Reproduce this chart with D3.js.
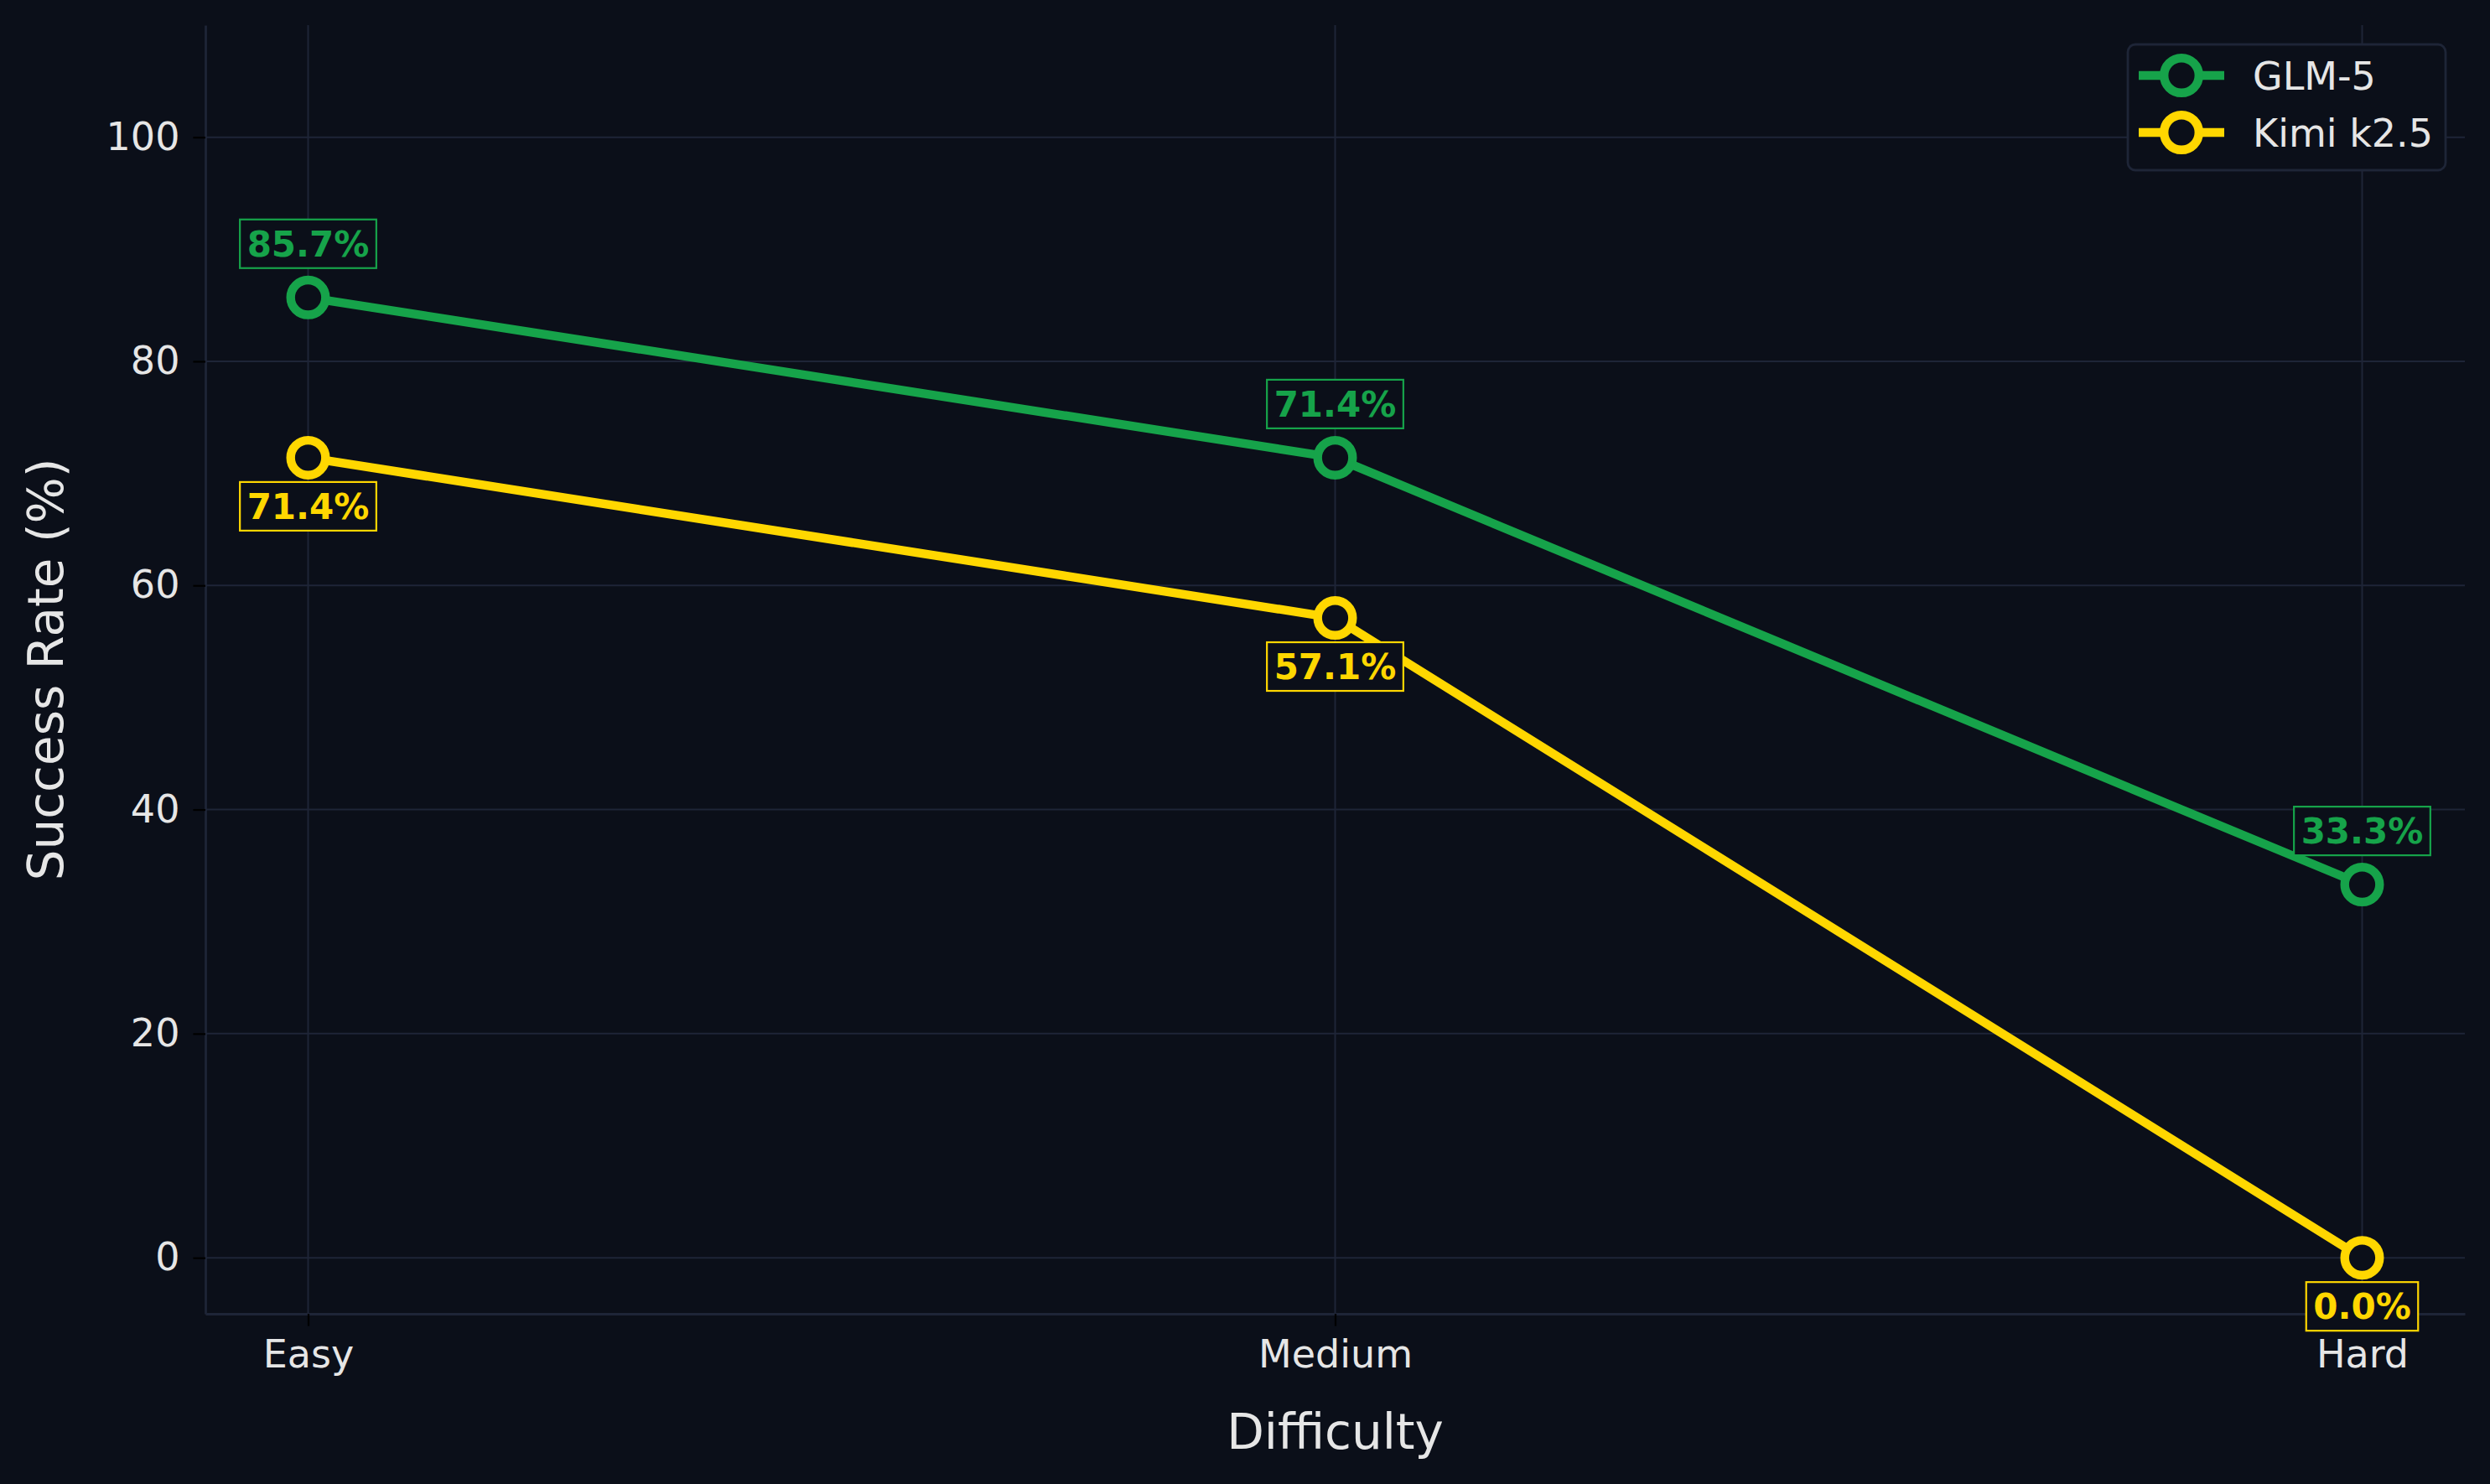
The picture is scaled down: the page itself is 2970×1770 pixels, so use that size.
<!DOCTYPE html>
<html>
<head>
<meta charset="utf-8">
<script src="https://cdn.jsdelivr.net/npm/d3@7"></script>
<style>
  html, body { margin: 0; padding: 0; background: #0b0f19; }
  svg { display: block; }
</style>
</head>
<body>
<div id="chart"></div>
<script>
// data
const difficulties = ['Easy', 'Medium', 'Hard'];
const glmValues = [85.7, 71.4, 33.3];
const kimiValues = [71.4, 57.1, 0.0];
const yTicks = [0, 20, 40, 60, 80, 100];
const seriesNames = ['GLM-5', 'Kimi k2.5'];
const seriesColors = ['#16a34a', '#ffd700'];
// +1 puts the label above the point, -1 below
const glmLabelSide = [1, 1, 1];
const kimiLabelSide = [-1, -1, -1];

const W = 2970;
const H = 1770;
const bg = '#0b0f19';
const gridColor = '#1e2537';
const textColor = '#e6e6e6';
const font = 'DejaVu Sans, sans-serif';

const margin = { top: 30, right: 30, bottom: 203, left: 245 };
const width = W - margin.left - margin.right;
const height = H - margin.top - margin.bottom;

const svg = d3.select('#chart')
    .append('svg')
    .attr('width', W)
    .attr('height', H)
    .style('background', bg);

const g = svg.append('g')
    .attr('transform', `translate(${margin.left},${margin.top})`);

const x = d3.scaleLinear().domain([-0.1, 2.1]).range([0, width]);
const y = d3.scaleLinear().domain([-5, 110]).range([height, 0]);

// grid
g.append('g')
    .selectAll('line')
    .data(yTicks)
    .enter()
    .append('line')
    .attr('x1', 0)
    .attr('x2', width)
    .attr('y1', d => y(d))
    .attr('y2', d => y(d))
    .attr('stroke', gridColor)
    .attr('stroke-width', 2);

g.append('g')
    .selectAll('line')
    .data(difficulties)
    .enter()
    .append('line')
    .attr('x1', (d, i) => x(i))
    .attr('x2', (d, i) => x(i))
    .attr('y1', 0)
    .attr('y2', height)
    .attr('stroke', gridColor)
    .attr('stroke-width', 2);

// axes
const xAxis = g.append('g')
    .attr('transform', `translate(0,${height})`)
    .call(d3.axisBottom(x)
        .tickValues([0, 1, 2])
        .tickFormat(i => difficulties[i])
        .tickSizeInner(14.6)
        .tickSizeOuter(0)
        .tickPadding(14));

const yAxis = g.append('g')
    .call(d3.axisLeft(y)
        .tickValues(yTicks)
        .tickSizeInner(14.6)
        .tickSizeOuter(0)
        .tickPadding(16));

[xAxis, yAxis].forEach((ax) => {
    ax.select('.domain')
        .attr('stroke', gridColor)
        .attr('stroke-width', 2.8);
    ax.selectAll('.tick line')
        .attr('stroke', '#000')
        .attr('stroke-width', 2.2);
    ax.selectAll('.tick text')
        .attr('fill', textColor)
        .style('font-family', font)
        .style('font-size', '46px');
});
xAxis.selectAll('.tick text').attr('dy', '0.78em');

// axis titles
svg.append('text')
    .attr('x', margin.left + width / 2)
    .attr('y', 1728)
    .attr('text-anchor', 'middle')
    .attr('fill', textColor)
    .style('font-family', font)
    .style('font-size', '58px')
    .text('Difficulty');

svg.append('text')
    .attr('transform', `translate(75,${margin.top + height / 2}) rotate(-90)`)
    .attr('text-anchor', 'middle')
    .attr('fill', textColor)
    .style('font-family', font)
    .style('font-size', '58px')
    .text('Success Rate (%)');

// lines, markers, labels
const series = [
    { name: seriesNames[0], color: seriesColors[0], values: glmValues, side: glmLabelSide },
    { name: seriesNames[1], color: seriesColors[1], values: kimiValues, side: kimiLabelSide },
];

const line = d3.line()
    .x((d, i) => x(i))
    .y(d => y(d));

series.forEach((s) => {
    g.append('path')
        .datum(s.values)
        .attr('fill', 'none')
        .attr('stroke', s.color)
        .attr('stroke-width', 10.4)
        .attr('stroke-linejoin', 'round')
        .attr('d', line);
});

series.forEach((s) => {
    g.append('g')
        .selectAll('circle')
        .data(s.values)
        .enter()
        .append('circle')
        .attr('cx', (d, i) => x(i))
        .attr('cy', d => y(d))
        .attr('r', 20.8)
        .attr('fill', bg)
        .attr('stroke', s.color)
        .attr('stroke-width', 10.4);
});

series.forEach((s) => {
    s.values.forEach((v, i) => {
        const cx = x(i);
        const cy = y(v) - s.side[i] * 61 - 3;
        const lab = g.append('g');
        const t = lab.append('text')
            .attr('x', cx)
            .attr('y', cy)
            .attr('dy', '0.36em')
            .attr('text-anchor', 'middle')
            .attr('fill', s.color)
            .style('font-family', font)
            .style('font-size', '42px')
            .style('font-weight', 'bold')
            .text(`${v.toFixed(1)}%`);
        const bb = t.node().getBBox();
        const boxW = bb.width + 17;
        const boxH = 58;
        lab.insert('rect', 'text')
            .attr('x', cx - boxW / 2)
            .attr('y', cy - boxH / 2)
            .attr('width', boxW)
            .attr('height', boxH)
            .attr('fill', bg)
            .attr('stroke', s.color)
            .attr('stroke-width', 2.2);
    });
});

// legend
const legend = svg.append('g');
legend.append('rect')
    .attr('x', 2538)
    .attr('y', 53)
    .attr('width', 379)
    .attr('height', 150)
    .attr('rx', 9)
    .attr('fill', bg)
    .attr('stroke', gridColor)
    .attr('stroke-width', 2.8);

series.forEach((s, i) => {
    const ly = 90 + i * 68;
    legend.append('line')
        .attr('x1', 2551)
        .attr('x2', 2653)
        .attr('y1', ly)
        .attr('y2', ly)
        .attr('stroke', s.color)
        .attr('stroke-width', 10.4);
    legend.append('circle')
        .attr('cx', 2602)
        .attr('cy', ly)
        .attr('r', 20.8)
        .attr('fill', bg)
        .attr('stroke', s.color)
        .attr('stroke-width', 10.4);
    legend.append('text')
        .attr('x', 2687)
        .attr('y', ly)
        .attr('dy', '0.36em')
        .attr('fill', textColor)
        .style('font-family', font)
        .style('font-size', '46px')
        .text(s.name);
});
</script>
</body>
</html>
